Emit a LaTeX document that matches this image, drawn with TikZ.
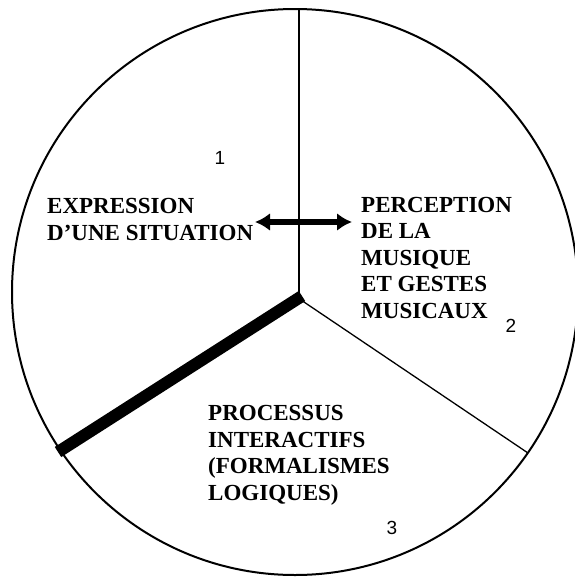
\documentclass[tikz,border=0pt]{standalone}
\usepackage{fontspec}
\setmainfont{Liberation Serif}
\newfontfamily\numfont{Liberation Sans}
\usetikzlibrary{arrows.meta,positioning}
\tikzset{
  zone/.style={
    inner sep=0pt,
    align=left,
    anchor=base west,
    font=\fontsize{23}{26.5}\selectfont\bfseries
  },
  zonenum/.style={
    inner sep=0pt,
    font=\numfont\fontsize{19}{19}\selectfont
  },
  rim/.style={line width=2pt},
  divider/.style={line width=1.3pt},
  strong/.style={line width=12pt},
  link/.style={{Latex[length=15pt,width=18pt]}-{Latex[length=15pt,width=18pt]},line width=5.5pt}
}

\begin{document}
\begin{tikzpicture}[x=1pt,y=-1pt]
  \useasboundingbox (0,0) rectangle (574,579);
  \coordinate (centre) at (295,292);
  \coordinate (hub) at (299,298);
  \coordinate (top) at (299,9);
  \coordinate (left) at (58,452);
  \coordinate (right) at (528,453);
  \draw[rim] (centre) circle[radius=283pt];
  % sector borders
  \draw[divider] (hub) -- (top);
  \draw[divider] (301,300) -- (right);
  \draw[strong] (302,296) -- (left);
  % texts (anchored on the baseline of their last line)
  \node[zone] (expr) at (47,240) {EXPRESSION\\D'UNE SITUATION};
  \node[zone] (perc) at (361,318) {PERCEPTION\\DE LA\\MUSIQUE\\ET GESTES\\MUSICAUX};
  \node[zone] (proc) at (208,500) {PROCESSUS\\INTERACTIFS\\(FORMALISMES\\LOGIQUES)};
  \node[zonenum] (one) at (220,158) {1};
  \node[zonenum] (two) at (511,326) {2};
  \node[zonenum] (three) at (392,528) {3};
  \coordinate (linkl) at (255,222);
  \coordinate (linkr) at (352,222);
  \draw[link] (linkl) -- (linkr);
\end{tikzpicture}
\end{document}
